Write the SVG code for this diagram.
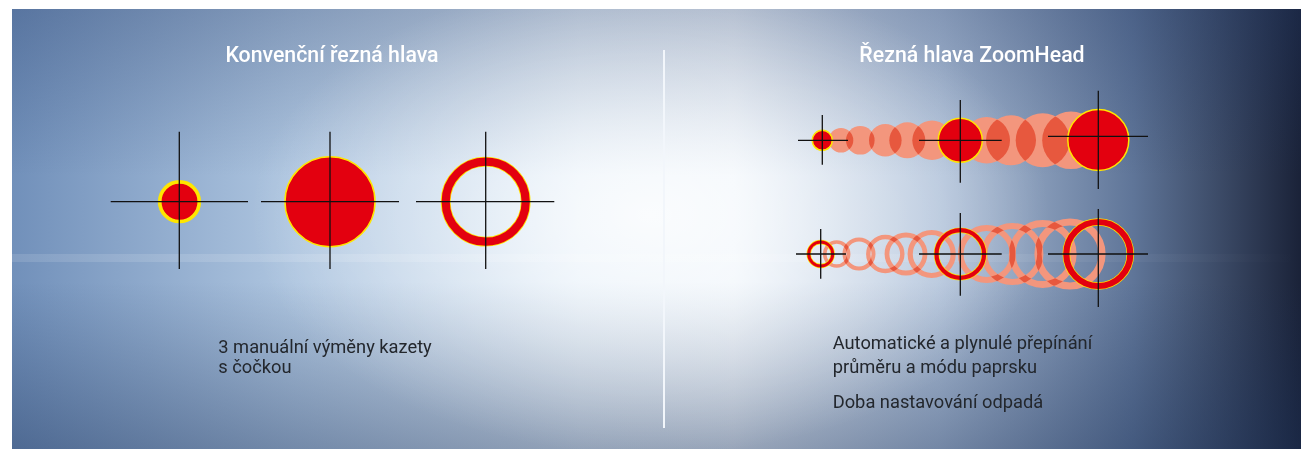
<svg xmlns="http://www.w3.org/2000/svg" width="1301" height="449" viewBox="0 0 1301 449">
  <defs>
    <linearGradient id="bgH" x1="12" y1="0" x2="1301" y2="0" gradientUnits="userSpaceOnUse">
      <stop offset="0" stop-color="#7190ba"/>
      <stop offset="0.22" stop-color="#afc6e0"/>
      <stop offset="0.44" stop-color="#e3eef8"/>
      <stop offset="0.56" stop-color="#ecf3fa"/>
      <stop offset="0.72" stop-color="#afc1d9"/>
      <stop offset="0.87" stop-color="#5f7598"/>
      <stop offset="1" stop-color="#1a2238"/>
    </linearGradient>
    <linearGradient id="bgV" x1="0" y1="9" x2="0" y2="449" gradientUnits="userSpaceOnUse">
      <stop offset="0" stop-color="#1e3563" stop-opacity="0.3"/>
      <stop offset="0.38" stop-color="#1e3563" stop-opacity="0"/>
      <stop offset="0.62" stop-color="#1a3058" stop-opacity="0"/>
      <stop offset="1" stop-color="#1a3058" stop-opacity="0.4"/>
    </linearGradient>
    <radialGradient id="glow" cx="650" cy="215" r="400" gradientUnits="userSpaceOnUse" gradientTransform="translate(650 215) scale(1 0.6) translate(-650 -215)">
      <stop offset="0" stop-color="#ffffff" stop-opacity="0.8"/>
      <stop offset="0.5" stop-color="#ffffff" stop-opacity="0.35"/>
      <stop offset="1" stop-color="#ffffff" stop-opacity="0"/>
    </radialGradient>
    <linearGradient id="band" x1="12" y1="0" x2="1301" y2="0" gradientUnits="userSpaceOnUse">
      <stop offset="0" stop-color="#ffffff" stop-opacity="0.12"/>
      <stop offset="0.5" stop-color="#ffffff" stop-opacity="0.15"/>
      <stop offset="1" stop-color="#ffffff" stop-opacity="0"/>
    </linearGradient>
    <style>
      .title { font-family: Roboto, "Liberation Sans", sans-serif; font-size: 21.3px; font-weight: 500; fill: #ffffff; text-anchor: middle; }
      .body { font-family: Roboto, "Liberation Sans", sans-serif; font-size: 18.3px; fill: #23272d; }
      .cross { stroke: #111111; stroke-width: 1.3; fill: none; }
      .red { fill: #e3000f; stroke: #ffe600; stroke-width: 1.5; }
      .iso { isolation: isolate; }
      .pink { fill: #f3967d; mix-blend-mode: multiply; }
      .pinkring { fill: none; stroke: #f3967d; mix-blend-mode: multiply; }
      .ringY { fill: none; stroke: #ffe600; }
      .ringR { fill: none; stroke: #e3000f; }
    </style>
  </defs>

  <g id="background">
    <rect x="12" y="9" width="1289" height="440" fill="url(#bgH)"/>
    <rect x="12" y="9" width="1289" height="440" fill="url(#bgV)"/>
    <rect x="12" y="9" width="1289" height="440" fill="url(#glow)"/>
    <rect x="12" y="254" width="1289" height="8" fill="url(#band)"/>
    <line x1="664" y1="50" x2="664" y2="428" stroke="#f2f6fb" stroke-width="2"/>
  </g>

  <g id="title-left"><text class="title" x="332" y="62">Konvenční řezná hlava</text></g>
  <g id="title-right"><text class="title" x="972" y="62">Řezná hlava ZoomHead</text></g>

  <g id="conv-small">
    <circle cx="179.5" cy="201.7" r="19.8" fill="#e3000f" stroke="#ffe600" stroke-width="3.7"/>
  </g>
  <g id="conv-large">
    <circle class="red" cx="330" cy="201.7" r="45"/>
  </g>
  <g id="conv-ring">
    <circle class="ringY" cx="485.7" cy="201.7" r="40" stroke-width="9.8"/>
    <circle class="ringR" cx="485.7" cy="201.7" r="40" stroke-width="8.2"/>
  </g>

  <g id="zoom-solid">
    <g class="iso">
      <circle class="pink" cx="841" cy="140.3" r="12.3"/>
      <circle class="pink" cx="860.3" cy="140.3" r="14.3"/>
      <circle class="pink" cx="885.3" cy="140.3" r="16.3"/>
      <circle class="pink" cx="907.3" cy="140.3" r="18"/>
      <circle class="pink" cx="932" cy="140.3" r="19.7"/>
      <circle class="pink" cx="986.7" cy="140.3" r="23.3"/>
      <circle class="pink" cx="1011" cy="140.3" r="25"/>
      <circle class="pink" cx="1042.7" cy="140.3" r="27"/>
      <circle class="pink" cx="1071" cy="140.3" r="28.8"/>
    </g>
    <circle class="red" cx="822.3" cy="140.3" r="10"/>
    <circle class="red" cx="960.3" cy="140.3" r="22"/>
    <circle class="red" cx="1098.3" cy="140" r="30.5"/>
  </g>

  <g id="zoom-ring">
    <g class="iso">
      <circle class="pinkring" cx="836.7" cy="254" r="12" stroke-width="3.5"/>
      <circle class="pinkring" cx="859" cy="254" r="14.5" stroke-width="4"/>
      <circle class="pinkring" cx="885.3" cy="254" r="17" stroke-width="4.4"/>
      <circle class="pinkring" cx="906" cy="254" r="19" stroke-width="4.8"/>
      <circle class="pinkring" cx="931.7" cy="254" r="21.5" stroke-width="5.2"/>
      <circle class="pinkring" cx="986.7" cy="254" r="26" stroke-width="5.8"/>
      <circle class="pinkring" cx="1012.3" cy="254" r="28" stroke-width="6.2"/>
      <circle class="pinkring" cx="1042.7" cy="254" r="30.5" stroke-width="6.8"/>
      <circle class="pinkring" cx="1070" cy="254" r="32" stroke-width="7.2"/>
    </g>
    <circle class="ringY" cx="820.7" cy="254" r="12" stroke-width="4.4"/>
    <circle class="ringR" cx="820.7" cy="254" r="12" stroke-width="3"/>
    <circle class="ringY" cx="960.3" cy="254" r="23.8" stroke-width="5.6"/>
    <circle class="ringR" cx="960.3" cy="254" r="23.8" stroke-width="4.2"/>
    <circle class="ringY" cx="1098.3" cy="254" r="32" stroke-width="7.6"/>
    <circle class="ringR" cx="1098.3" cy="254" r="32" stroke-width="6.2"/>
  </g>

  <g id="crosshairs">
    <path class="cross" d="M110.7 201.7H248M179.3 131.7V269"/>
    <path class="cross" d="M261 201.7H399M330 131.7V269"/>
    <path class="cross" d="M416 201.7H554.3M485.7 131.7V269"/>
    <path class="cross" d="M798 140.3H848M822.3 115V164.7"/>
    <path class="cross" d="M919 140.3H1001.7M960.3 100V182.7"/>
    <path class="cross" d="M1048 136.3H1148M1098.3 90.7V189"/>
    <path class="cross" d="M796 254H846M820.7 229V278.7"/>
    <path class="cross" d="M919 254H1001.7M960.3 213V295.7"/>
    <path class="cross" d="M1048 254H1148M1098.3 209V307"/>
  </g>

  <g id="text-left">
    <text class="body" x="218.3" y="352.5">3 manuální výměny kazety</text>
    <text class="body" x="218.3" y="373.3">s čočkou</text>
  </g>
  <g id="text-right">
    <text class="body" x="832.7" y="349">Automatické a plynulé přepínání</text>
    <text class="body" x="832.7" y="373.3">průměru a módu paprsku</text>
    <text class="body" x="832.7" y="408.3">Doba nastavování odpadá</text>
  </g>
</svg>
